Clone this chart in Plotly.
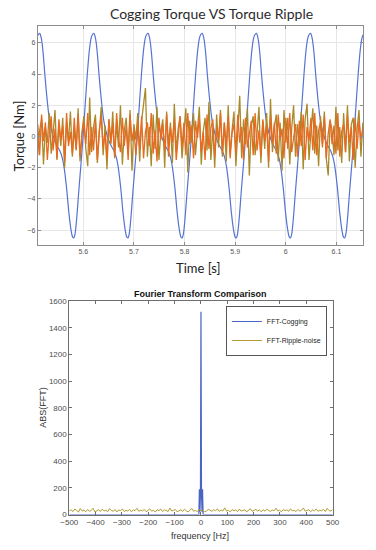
import plotly.graph_objects as go
import numpy as np

# ---------------- data ----------------
# cogging torque: one period shape (phase relative to peak -> torque)
cog_phase = [0.00, 0.03, 0.06, 0.10, 0.14, 0.18, 0.22, 0.27, 0.32, 0.37, 0.42, 0.46, 0.50,
             0.54, 0.58, 0.61, 0.63, 0.65, 0.68, 0.72, 0.76, 0.80, 0.84, 0.88, 0.92, 0.95, 0.97]
cog_shape = [6.6, 6.3, 5.5, 3.8, 2.3, 1.1, 0.4, -0.2, -0.6, -0.9, -1.4, -2.2, -3.4,
             -4.9, -6.0, -6.45, -6.5, -6.3, -5.4, -3.6, -1.9, -0.1, 2.0, 4.0, 5.6, 6.3, 6.5]
cog_first_peak = 5.5138   # s
cog_period = 0.107        # s
cog_periods = list(range(0, 8))

# torque ripple noise series (sampled)
noise_t0 = 5.51
noise_dt = 0.0038
ripple_orange = [
    0.8,-1.2,1.4,-0.3,0.9,-1.5,0.2,1.3,-0.9,0.5,-1.4,1.1,-0.2,0.7,-1.6,1.5,-0.6,0.3,-1.1,1.2,
    -0.8,1.4,-1.3,0.1,0.9,-0.5,1.5,-1.2,0.6,-0.9,1.0,-1.5,0.4,1.3,-0.7,0.2,-1.4,1.1,-0.4,0.8,
    -1.3,1.5,-0.1,-1.0,1.2,-0.6,0.7,-1.5,1.4,-0.3,0.5,-1.2,1.0,-0.8,1.3,-1.4,0.3,0.9,-0.6,1.5,
    -1.1,0.4,-1.6,1.2,-0.2,0.8,-0.9,1.4,-1.3,0.6,-0.4,1.1,-1.5,0.2,1.3,-0.7,0.9,-1.2,1.5,-0.5,
    0.7,-1.4,1.0,-0.1,1.2,-1.0,0.3,-1.5,1.4,-0.8,0.5,1.1,-1.3,0.6,-0.2,1.5,-1.1,0.9,-0.6,1.3,
    -1.4,0.2,0.8,-1.0,1.4,-0.4,0.6,-1.5,1.2,-0.7,0.3,1.0,-1.2,1.5,-0.9,0.4,-1.3,1.1,-0.3,0.7,
    -1.6,1.3,-0.5,0.9,-1.1,1.4,-0.2,0.5,-1.4,1.2,-0.8,1.5,-1.0,0.1,0.8,-1.3,1.0,-0.6,1.4,-1.5,
    0.6,-0.3,1.2,-0.9,1.5,-1.2,0.4,0.9,-0.7,1.3,-1.4,0.2,1.1,-0.5,0.7,-1.1,1.5,-1.3,0.3,0.8,
    -1.0,1.4,-0.4,0.6,-1.5,1.2,-0.8,1.0,-0.2,0.5,
]
ripple_olive = [
    -1.2,0.4,1.1,-1.8,0.6,-0.4,1.5,-1.1,0.2,1.7,-1.5,0.8,-0.6,1.2,-2.0,0.9,-0.3,1.6,-1.3,0.5,
    -0.9,1.8,-1.6,0.3,1.3,-0.8,-1.9,2.5,-1.0,0.6,1.4,-1.7,0.2,1.9,-1.2,0.7,-2.1,1.1,-0.5,1.6,
    -1.4,0.9,-0.7,2.0,-1.8,0.4,1.2,-1.1,1.7,-2.2,0.8,-0.2,1.5,-1.6,1.0,2.0,3.1,-1.3,0.6,-1.9,
    1.4,-0.8,1.9,-1.5,0.3,1.1,-2.0,1.6,-0.6,0.9,-1.7,2.1,-1.0,0.5,1.3,-1.4,0.2,1.8,-2.3,1.0,
    -0.4,1.5,-1.2,0.7,1.9,-1.8,0.3,1.2,-0.9,2.2,-1.5,0.6,-2.0,1.4,-0.7,1.7,-1.3,0.9,-1.6,2.0,
    -1.1,0.4,1.6,-1.9,0.8,2.6,-1.4,1.1,-0.5,1.8,-2.5,0.7,1.3,-1.2,0.2,1.9,-1.7,1.0,-0.8,1.5,
    -2.0,2.4,-1.0,0.6,1.4,-1.6,0.9,-2.2,1.7,-0.4,1.2,-1.8,0.5,2.0,-1.3,0.8,-0.6,1.6,-2.1,1.1,
    2.1,-1.5,0.3,1.8,-1.1,0.7,-1.9,1.3,-0.5,1.6,-1.4,-2.5,1.0,0.4,-1.2,1.9,-0.9,0.6,-1.7,1.5,
    -1.0,2.0,-1.6,0.8,1.2,-2.0,0.5,1.7,-1.3,0.9,
]

# FFT data
fft_cog_freq = [-500, -8, -6, -4, -2, 0, 2, 4, 6, 8, 500]
fft_cog_abs = [0, 0, 190, 20, 150, 1520, 150, 20, 190, 0, 0]
fft_noise_abs = [
    28,35,22,41,30,18,45,26,33,20,38,24,31,47,19,29,36,23,40,27,
    32,21,44,30,25,37,19,34,28,42,22,31,26,39,20,35,29,46,24,33,
    27,38,21,30,43,25,32,18,36,28,41,23,34,30,22,48,26,31,37,20,
    29,35,24,40,27,19,33,45,25,30,22,38,28,34,21,26,39,31,24,36,
    29,42,23,33,27,50,25,31,20,37,28,34,22,41,26,30,35,19,32,44,
    24,29,38,27,33,21,36,25,40,30,23,34,28,47,26,32,20,37,29,35,
    24,43,27,31,22,38,26,33,49,25,30,36,21,34,28,41,24,32,27,39,
    23,46,30,26,35,
]
fft_freq_min, fft_freq_max = -500, 500

top_xticks = [5.6, 5.7, 5.8, 5.9, 6.0, 6.1]
top_xticklabels = ["5.6", "5.7", "5.8", "5.9", "6", "6.1"]
top_yticks = [-6, -4, -2, 0, 2, 4, 6]
bot_xticks = list(range(-500, 501, 100))
bot_yticks = list(range(0, 1601, 200))

# ---------------- build ----------------
cog_t, cog_v = [], []
for k in cog_periods:
    for p, v in zip(cog_phase, cog_shape):
        cog_t.append(cog_first_peak + (k - 1 + p) * cog_period)
        cog_v.append(v)

t_orange = [noise_t0 + i * noise_dt for i in range(len(ripple_orange))]
t_olive = [noise_t0 + i * noise_dt for i in range(len(ripple_olive))]
fft_noise_freq = np.linspace(fft_freq_min, fft_freq_max, len(fft_noise_abs))

W, H = 376, 550
def px(x): return x / W
def py(y): return 1 - y / H

fig = go.Figure()
fig.add_trace(go.Scatter(x=cog_t, y=cog_v, mode="lines", line=dict(color="#5673d2", width=1.2, shape="spline"),
                         xaxis="x", yaxis="y", showlegend=False, hoverinfo="skip"))
fig.add_trace(go.Scatter(x=t_olive, y=ripple_olive, mode="lines", line=dict(color="#a98a2b", width=1.3),
                         xaxis="x", yaxis="y", showlegend=False))
fig.add_trace(go.Scatter(x=t_orange, y=ripple_orange, mode="lines", line=dict(color="#e8691f", width=1.3),
                         xaxis="x", yaxis="y", showlegend=False))

fig.add_trace(go.Scatter(x=fft_cog_freq, y=fft_cog_abs, mode="lines", name="FFT-Cogging",
                         line=dict(color="#4a64c4", width=1.2), xaxis="x2", yaxis="y2"))
fig.add_trace(go.Scatter(x=fft_noise_freq, y=fft_noise_abs, mode="lines", name="FFT-Ripple-noise",
                         line=dict(color="#b39a34", width=1), xaxis="x2", yaxis="y2"))

tick_font_top = dict(family="Liberation Sans, Arial", size=7, color="#555555")
tick_font_bot = dict(family="Liberation Sans, Arial", size=8, color="#4d4d4d")

fig.update_layout(
    width=W, height=H, margin=dict(l=0, r=0, t=0, b=0),
    paper_bgcolor="white", plot_bgcolor="white",
    xaxis=dict(domain=[px(30), px(370)], anchor="y", range=[5.51, 6.153],
               tickvals=top_xticks, ticktext=top_xticklabels, tickfont=tick_font_top,
               showgrid=True, gridcolor="#e6e6e6", gridwidth=1, zeroline=False,
               showline=True, linecolor="#8c8c8c", linewidth=1, mirror="ticks",
               ticks="inside", ticklen=3, tickcolor="#8c8c8c"),
    yaxis=dict(domain=[py(245), py(22)], anchor="x", range=[-6.95, 7.1],
               tickvals=top_yticks, tickfont=tick_font_top,
               showgrid=True, gridcolor="#e6e6e6", gridwidth=1, zeroline=False,
               showline=True, linecolor="#8c8c8c", linewidth=1, mirror="ticks",
               ticks="inside", ticklen=3, tickcolor="#8c8c8c"),
    xaxis2=dict(domain=[px(63), px(338)], anchor="y2", range=[-500, 500],
                tickvals=bot_xticks, tickfont=tick_font_bot,
                showgrid=False, zeroline=False,
                showline=True, linecolor="#6e6e6e", linewidth=1, mirror="ticks",
                ticks="inside", ticklen=3, tickcolor="#6e6e6e"),
    yaxis2=dict(domain=[py(519), py(302)], anchor="x2", range=[0, 1600],
                tickvals=bot_yticks, tickfont=tick_font_bot,
                showgrid=False, zeroline=False,
                showline=True, linecolor="#6e6e6e", linewidth=1, mirror="ticks",
                ticks="inside", ticklen=3, tickcolor="#6e6e6e"),
    legend=dict(x=px(332), y=py(307), xanchor="right", yanchor="top",
                bgcolor="white", bordercolor="#555555", borderwidth=1,
                font=dict(family="Liberation Sans, Arial", size=7, color="#262626"),
                tracegroupgap=0, itemwidth=30),
    annotations=[
        dict(text="Cogging Torque VS Torque Ripple", x=px(212), y=py(10), xref="paper", yref="paper",
             showarrow=False, font=dict(family="Lato", size=14, color="#2b2b2b"), xanchor="center", yanchor="middle"),
        dict(text="Time [s]", x=px(197), y=py(268), xref="paper", yref="paper",
             showarrow=False, font=dict(family="Lato", size=13, color="#222222"), xanchor="center", yanchor="middle"),
        dict(text="Torque [Nm]", x=px(10), y=py(134), xref="paper", yref="paper", textangle=-90,
             showarrow=False, font=dict(family="Lato", size=13, color="#222222"), xanchor="center", yanchor="middle"),
        dict(text="<b>Fourier Transform Comparison</b>", x=px(200), y=py(295), xref="paper", yref="paper",
             showarrow=False, font=dict(family="Liberation Sans, Arial", size=9, color="#111111"), xanchor="center", yanchor="middle"),
        dict(text="frequency [Hz]", x=px(200), y=py(541), xref="paper", yref="paper",
             showarrow=False, font=dict(family="Liberation Sans, Arial", size=9, color="#333333"), xanchor="center", yanchor="middle"),
        dict(text="ABS(FFT)", x=px(36), y=py(410), xref="paper", yref="paper", textangle=-90,
             showarrow=False, font=dict(family="Liberation Sans, Arial", size=9, color="#333333"), xanchor="center", yanchor="middle"),
    ],
)

fig.write_html("out.html", config={"displayModeBar": False},
               post_script="document.body.style.margin='0px';")
